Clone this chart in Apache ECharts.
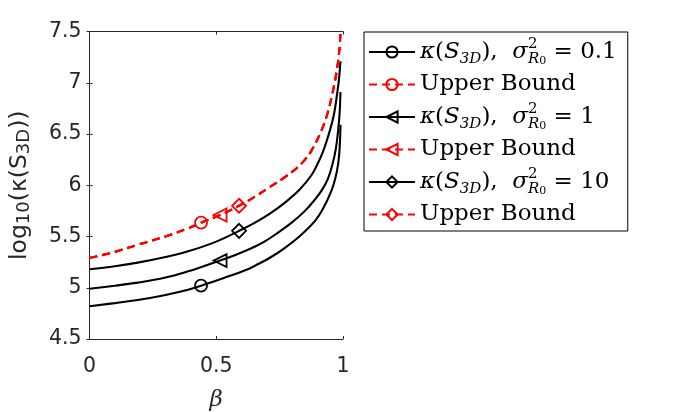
<!DOCTYPE html>
<html>
<head>
<meta charset="utf-8">
<script src="https://cdn.jsdelivr.net/npm/echarts@6/dist/echarts.min.js"></script>
<style>
html, body { margin: 0; padding: 0; background: #fff; }
#main { width: 673px; height: 412px; }
</style>
</head>
<body>
<div id="main"></div>
<script>
// β 取值 与 log10(κ) 读数
// σ²_R0 = 0.1
var betaA = [0, 0.1, 0.19, 0.3, 0.389, 0.44, 0.53, 0.625, 0.653, 0.71, 0.771, 0.83, 0.889, 0.92, 0.955, 0.97, 0.981, 0.987, 0.99];
var kappaA = [4.82, 4.85, 4.88, 4.93, 4.98, 5.02, 5.095, 5.18, 5.215, 5.29, 5.39, 5.505, 5.65, 5.765, 5.95, 6.07, 6.21, 6.37, 6.59];
// σ²_R0 = 1
var betaB = [0, 0.1, 0.19, 0.3, 0.389, 0.45, 0.515, 0.57, 0.625, 0.69, 0.745, 0.8, 0.85, 0.889, 0.916, 0.94, 0.959, 0.972, 0.981, 0.987, 0.99];
var kappaB = [4.99, 5.02, 5.05, 5.10, 5.16, 5.21, 5.265, 5.315, 5.37, 5.45, 5.54, 5.64, 5.75, 5.86, 5.95, 6.06, 6.21, 6.36, 6.54, 6.72, 6.91];
// σ²_R0 = 10
var betaC = [0, 0.1, 0.19, 0.3, 0.389, 0.5, 0.59, 0.653, 0.71, 0.771, 0.83, 0.876, 0.896, 0.92, 0.949, 0.965, 0.975, 0.984, 0.99];
var kappaC = [5.18, 5.21, 5.245, 5.30, 5.355, 5.45, 5.555, 5.635, 5.72, 5.83, 5.96, 6.10, 6.19, 6.32, 6.54, 6.70, 6.86, 7.03, 7.21];
// 上界（三条重合）
var betaU = [0, 0.1, 0.19, 0.3, 0.389, 0.44, 0.515, 0.59, 0.653, 0.71, 0.771, 0.804, 0.843, 0.876, 0.916, 0.94, 0.955, 0.968, 0.979, 0.986, 0.99];
var kappaU = [5.29, 5.35, 5.42, 5.50, 5.58, 5.635, 5.71, 5.80, 5.89, 5.98, 6.08, 6.14, 6.23, 6.34, 6.54, 6.71, 6.86, 7.01, 7.18, 7.33, 7.48];

// 标记所在的 β
var markBeta = [0.44, 0.515, 0.59];
var sigmaText = ['0.1', '1', '10'];

var xTicks = { min: 0, max: 1, interval: 0.5 };
var yTicks = { min: 4.5, max: 7.5, interval: 0.5 };

var myChart = echarts.init(document.getElementById('main'));

var leftTri = 'path://M0,5L10,0L10,10Z';
var markers = ['circle', leftTri, 'diamond'];
var markerSize = [12, 13, 14];

/**
 * 把两个数组拼成 [x, y] 点
 */
function toPairs(xs, ys) {
    var out = [];
    for (var i = 0; i < xs.length; i++) {
        out.push([xs[i], ys[i]]);
    }
    return out;
}

/**
 * 生成一条曲线
 */
function makeSeries(name, xs, ys, k, color, dashed) {
    var idx = xs.indexOf(markBeta[k]);
    return {
        name: name,
        type: 'line',
        data: toPairs(xs, ys),
        smooth: 0.4,
        symbol: markers[k],
        showSymbol: true,
        showAllSymbol: true,
        symbolSize: function (val, params) {
            return params.dataIndex === idx ? markerSize[k] : 0;
        },
        itemStyle: { color: 'rgba(0,0,0,0)', borderColor: color, borderWidth: 1.8 },
        lineStyle: { color: color, width: 2.1, type: dashed ? [8, 5] : 'solid' },
        emphasis: { disabled: true },
        z: dashed ? 3 : 2
    };
}

var curves = [[betaA, kappaA], [betaB, kappaB], [betaC, kappaC]];
var series = [];
var legendNames = [];
for (var k = 0; k < 3; k++) {
    series.push(makeSeries('k' + k, curves[k][0], curves[k][1], k, '#000', false));
    series.push(makeSeries('u' + k, betaU, kappaU, k, '#ff0000', true));
    legendNames.push('k' + k, 'u' + k);
}

// 图例文字（近似 LaTeX）
var serif = 'DejaVu Serif';
var legendRich = {
    t: { fontFamily: serif, fontSize: 23, lineHeight: 30, color: '#000' },
    i: { fontFamily: serif, fontStyle: 'italic', fontSize: 23, lineHeight: 30, color: '#000' },
    sb: { fontFamily: serif, fontStyle: 'italic', fontSize: 15, lineHeight: 20, verticalAlign: 'bottom', color: '#000' },
    sp: { fontFamily: serif, fontSize: 15, lineHeight: 16, verticalAlign: 'top', width: 0, color: '#000' },
    ssb: { fontFamily: serif, fontSize: 11, lineHeight: 14, verticalAlign: 'bottom', color: '#000' }
};

function legendLabel(name) {
    var k = +name.charAt(1);
    if (name.charAt(0) === 'u') {
        return '{t|Upper Bound}';
    }
    return '{i|κ}{t|(}{i|S}{sb|3D}{t|),  }{i|σ}{sp|2}{sb|R}{ssb|0}{t| = ' + sigmaText[k] + '}';
}

var axisGray = '#262626';
var sans = 'DejaVu Sans';

var option = {
    backgroundColor: '#fff',
    animation: false,
    grid: { left: 89.5, right: 330, top: 31.5, bottom: 73, outerBoundsMode: 'none' },
    legend: {
        orient: 'vertical',
        left: 364,
        top: 32,
        data: legendNames,
        selectedMode: false,
        itemWidth: 46,
        itemHeight: 14,
        itemGap: 6,
        padding: [5, 11, 5, 4],
        borderColor: '#000',
        borderWidth: 1,
        formatter: legendLabel,
        textStyle: { rich: legendRich }
    },
    xAxis: [{
        type: 'value',
        min: xTicks.min, max: xTicks.max, interval: xTicks.interval,
        name: 'β',
        nameLocation: 'middle',
        nameGap: 50,
        nameTextStyle: { fontFamily: serif, fontStyle: 'italic', fontSize: 23, color: axisGray, verticalAlign: 'top' },
        axisLine: { show: true, lineStyle: { color: axisGray, width: 1 } },
        axisTick: { show: true, inside: true, length: 3, lineStyle: { color: axisGray } },
        axisLabel: { fontFamily: sans, fontSize: 20.5, color: axisGray, margin: 17 },
        splitLine: { show: false }
    }, {
        type: 'value', position: 'top',
        min: xTicks.min, max: xTicks.max, interval: xTicks.interval,
        axisLine: { show: true, lineStyle: { color: axisGray, width: 1 } },
        axisTick: { show: true, inside: true, length: 3, lineStyle: { color: axisGray } },
        axisLabel: { show: false },
        splitLine: { show: false }
    }],
    yAxis: [{
        type: 'value',
        min: yTicks.min, max: yTicks.max, interval: yTicks.interval,
        name: '{a|log}{b|10}{a|(κ(S}{b|3D}{a|))}',
        nameLocation: 'middle',
        nameGap: 56,
        nameTextStyle: {
            rich: {
                a: { fontFamily: sans, fontSize: 23.5, lineHeight: 28, color: axisGray },
                b: { fontFamily: sans, fontSize: 18, lineHeight: 18, verticalAlign: 'bottom', color: axisGray }
            }
        },
        axisLine: { show: true, lineStyle: { color: axisGray, width: 1 } },
        axisTick: { show: true, inside: true, length: 3, lineStyle: { color: axisGray } },
        axisLabel: { fontFamily: sans, fontSize: 20.5, color: axisGray, margin: 8 },
        splitLine: { show: false }
    }, {
        type: 'value', position: 'right',
        min: yTicks.min, max: yTicks.max, interval: yTicks.interval,
        axisLine: { show: true, lineStyle: { color: axisGray, width: 1 } },
        axisTick: { show: true, inside: true, length: 3, lineStyle: { color: axisGray } },
        axisLabel: { show: false },
        splitLine: { show: false }
    }],
    series: series
};

myChart.setOption(option);
</script>
</body>
</html>
